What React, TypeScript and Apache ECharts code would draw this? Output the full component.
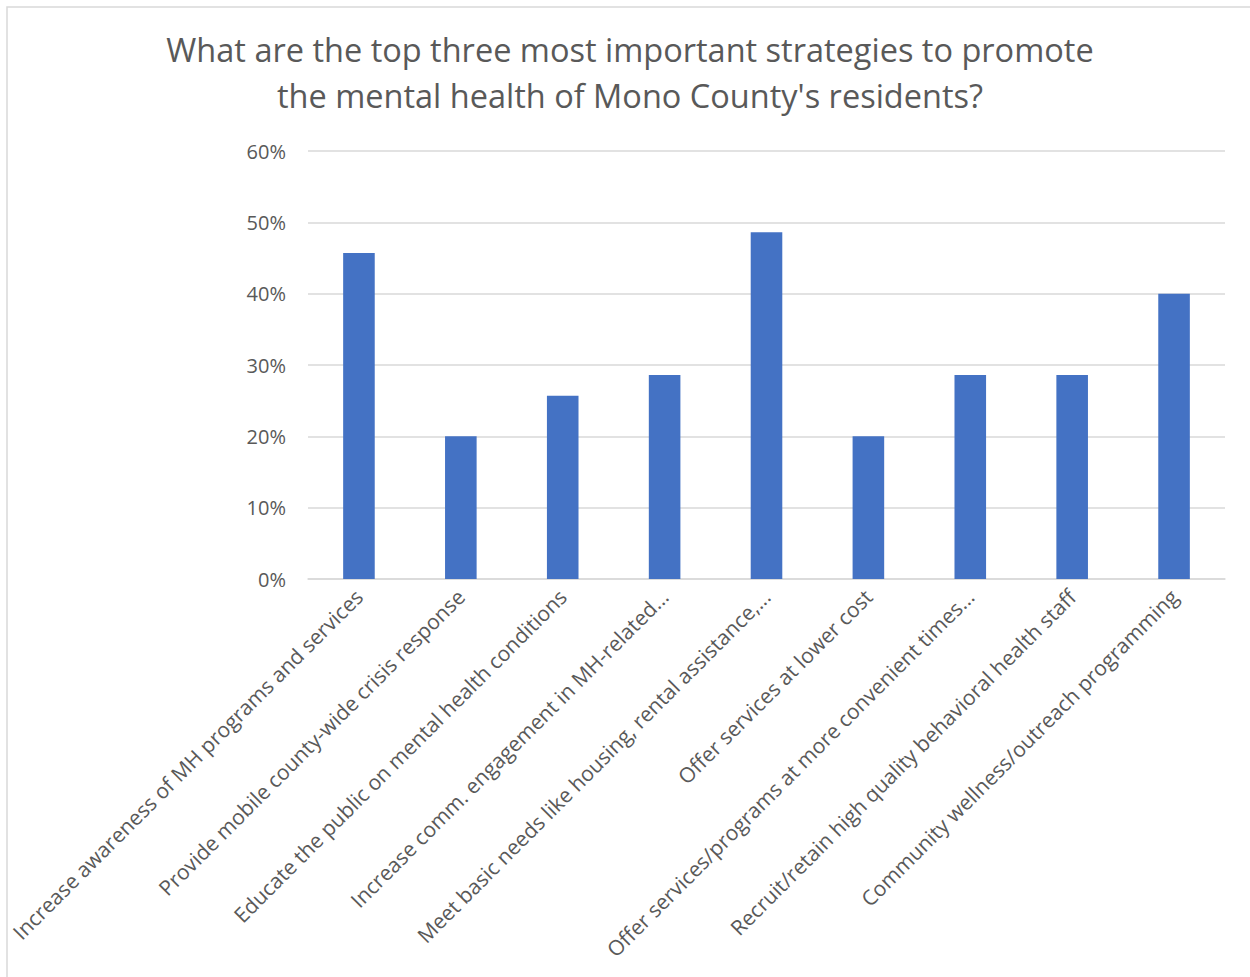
import React, { useEffect, useRef } from "react";
import * as echarts from "echarts";

const titleLines = [
  "What are the top three most important strategies to promote",
  "the mental health of Mono County's residents?",
];

const categories = [
  "Increase awareness of MH programs and services",
  "Provide mobile county-wide crisis response",
  "Educate the public on mental health conditions",
  "Increase comm. engagement in MH-related...",
  "Meet basic needs like housing, rental assistance,...",
  "Offer services at lower cost",
  "Offer services/programs at more convenient times...",
  "Recruit/retain high quality behavioral health staff",
  "Community wellness/outreach programming",
];

const values = [45.7, 20.0, 25.7, 28.6, 48.6, 20.0, 28.6, 28.6, 40.0];

const yTicks = { min: 0, max: 60, interval: 10 };

export default function App() {
  const ref = useRef<HTMLDivElement>(null);
  useEffect(() => {
    if (!ref.current) return;
    const chart = echarts.init(ref.current, null, { renderer: "svg" });
    const font = "'Open Sans', 'Noto Sans', sans-serif";
    chart.setOption({
      animation: false,
      backgroundColor: "#ffffff",
      textStyle: { fontFamily: font },
      title: {
        text: titleLines.join("\n"),
        left: 625,
        top: 21,
        textAlign: "center",
        textStyle: {
          fontFamily: font,
          fontSize: 32.5,
          fontWeight: "normal",
          color: "#595959",
          lineHeight: 46,
          align: "center",
        },
      },
      graphic: [
        {
          type: "rect",
          shape: { x: 7, y: 7, width: 1300, height: 1100 },
          style: { fill: "none", stroke: "#d9d9d9", lineWidth: 1.5 },
          silent: true,
        },
      ],
      grid: { left: 308, right: 25, top: 151, bottom: 398, containLabel: false },
      xAxis: {
        type: "category",
        data: categories,
        axisLine: { show: true, lineStyle: { color: "#d9d9d9", width: 1.5 } },
        axisTick: { show: false },
        axisLabel: {
          rotate: 45,
          interval: 0,
          margin: 14,
          fontSize: 21,
          color: "#595959",
          fontFamily: font,
        },
      },
      yAxis: {
        type: "value",
        min: yTicks.min,
        max: yTicks.max,
        interval: yTicks.interval,
        axisLine: { show: false },
        axisTick: { show: false },
        splitLine: { lineStyle: { color: "#d9d9d9", width: 1.5 } },
        axisLabel: {
          formatter: "{value}%",
          fontSize: 20,
          color: "#595959",
          margin: 22,
          fontFamily: font,
        },
      },
      series: [
        {
          type: "bar",
          data: values,
          barWidth: "31%",
          itemStyle: { color: "#4472C4" },
        },
      ],
    });
    return () => chart.dispose();
  }, []);
  return (
    <div
      ref={ref}
      style={{ position: "fixed", left: 0, top: 0, width: 1250, height: 977 }}
    />
  );
}
